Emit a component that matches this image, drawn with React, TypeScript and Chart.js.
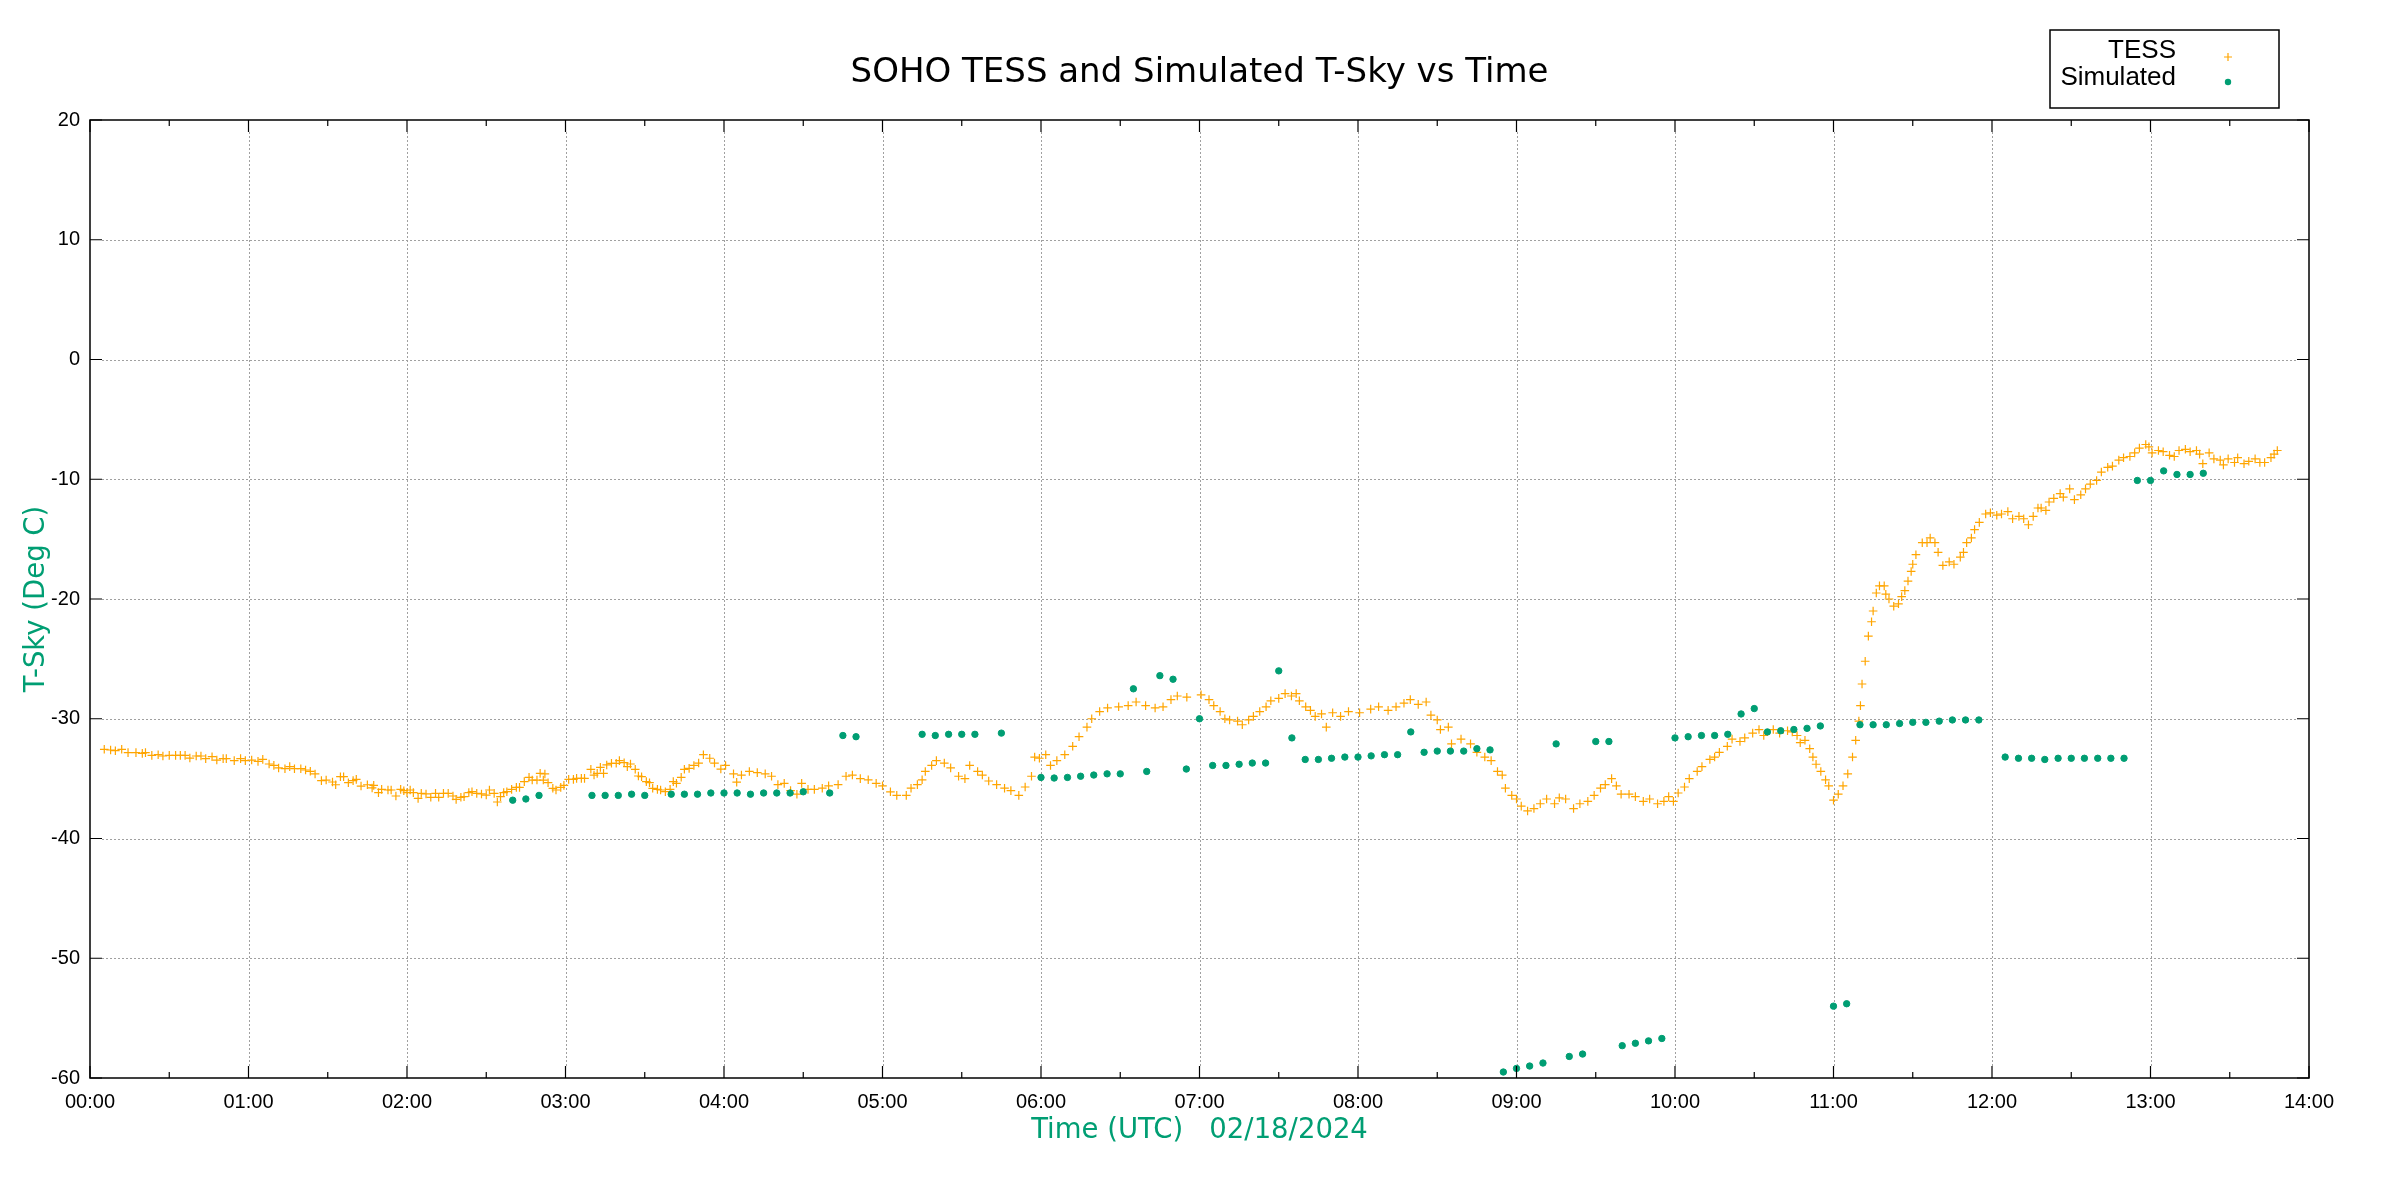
import { useEffect, useRef } from 'react';
import { Chart, registerables } from 'chart.js';

Chart.register(...registerables);

const W = 2400;
const H = 1200;

// Time in decimal hours (UTC), temperature in deg C
const tessHours = [
  0.09, 0.13, 0.16, 0.20, 0.24, 0.29, 0.33, 0.35, 0.39, 0.43,
  0.46, 0.50, 0.54, 0.57, 0.60, 0.63, 0.67, 0.70, 0.73, 0.77,
  0.80, 0.84, 0.86, 0.91, 0.95, 0.98, 1.02, 1.06, 1.09, 1.13,
  1.16, 1.19, 1.23, 1.26, 1.29, 1.33, 1.36, 1.39, 1.42, 1.46,
  1.49, 1.53, 1.55, 1.58, 1.60, 1.63, 1.66, 1.68, 1.71, 1.75,
  1.78, 1.79, 1.82, 1.84, 1.88,
  1.90, 1.93, 1.96, 1.98, 2.00, 2.02, 2.04, 2.07, 2.09, 2.12,
  2.15, 2.18, 2.20, 2.23, 2.26, 2.29, 2.31, 2.34, 2.36, 2.39,
  2.41, 2.44, 2.47, 2.50, 2.52, 2.55, 2.57, 2.59, 2.61, 2.63,
  2.66, 2.69, 2.71, 2.74, 2.77, 2.79, 2.82, 2.84, 2.86, 2.87,
  2.89, 2.92, 2.94, 2.97, 2.99, 3.02, 3.05, 3.07, 3.10, 3.12,
  3.16, 3.18, 3.20, 3.22, 3.24, 3.26, 3.29, 3.32, 3.34, 3.37,
  3.39, 3.41, 3.44, 3.46, 3.48, 3.51, 3.53, 3.55, 3.58, 3.60,
  3.63, 3.66, 3.68, 3.70, 3.73, 3.75, 3.78,
  3.81, 3.84, 3.87,
  3.91, 3.94, 3.98, 4.01, 4.06, 4.08, 4.11, 4.16, 4.21, 4.26,
  4.30, 4.34, 4.38, 4.42, 4.46, 4.49, 4.53, 4.57, 4.62, 4.66,
  4.72, 4.77, 4.81, 4.86, 4.91, 4.96, 5.00, 5.05, 5.09, 5.15,
  5.18, 5.22, 5.25, 5.27, 5.31, 5.34, 5.39, 5.43, 5.48, 5.52,
  5.55, 5.60, 5.63, 5.67, 5.72, 5.77, 5.81, 5.86, 5.90, 5.94,
  5.96, 5.99, 6.03, 6.06, 6.10, 6.15, 6.20, 6.24, 6.29, 6.32,
  6.37, 6.42, 6.49, 6.55, 6.60, 6.66, 6.72, 6.77, 6.82, 6.86,
  6.92,
  7.01, 7.06, 7.09, 7.13, 7.16, 7.19, 7.24, 7.27, 7.31, 7.34,
  7.38, 7.42, 7.45, 7.50, 7.54, 7.58, 7.61, 7.63, 7.67, 7.70,
  7.73, 7.77, 7.80, 7.84, 7.89, 7.94, 8.01, 8.08, 8.13, 8.19,
  8.24, 8.29, 8.33, 8.38, 8.43, 8.46, 8.50, 8.52, 8.57, 8.59,
  8.65, 8.71, 8.75, 8.80, 8.84, 8.88, 8.91, 8.93, 8.97, 9.00,
  9.03, 9.07, 9.11, 9.15, 9.19, 9.24, 9.27, 9.31, 9.36, 9.40,
  9.45, 9.49, 9.53, 9.56, 9.60, 9.63, 9.66, 9.71, 9.75, 9.80,
  9.84, 9.89, 9.93, 9.96, 9.99, 10.02, 10.06, 10.09, 10.14, 10.17,
  10.22, 10.25, 10.28, 10.33, 10.36, 10.41, 10.44, 10.49,
  10.53, 10.56, 10.62, 10.66, 10.71, 10.74, 10.77, 10.79, 10.82, 10.85,
  10.87, 10.89, 10.92, 10.95, 10.97, 11.00, 11.03, 11.06, 11.09, 11.12,
  11.14, 11.16, 11.17, 11.18, 11.20, 11.22, 11.24, 11.25, 11.27, 11.29,
  11.32, 11.33, 11.35, 11.38, 11.41, 11.43, 11.45, 11.47, 11.49, 11.50,
  11.52, 11.56, 11.59, 11.61, 11.64, 11.66, 11.69, 11.73, 11.76, 11.80,
  11.82, 11.84, 11.87, 11.89, 11.92, 11.96, 11.99, 12.03, 12.06, 12.10,
  12.13, 12.17, 12.20, 12.23, 12.26, 12.29, 12.31, 12.34, 12.36, 12.39,
  12.43, 12.45, 12.49, 12.52, 12.56, 12.59, 12.62, 12.66, 12.69, 12.73,
  12.76, 12.80, 12.83, 12.87, 12.90, 12.93, 12.97, 12.99, 13.01, 13.05,
  13.08, 13.12, 13.15, 13.18, 13.22, 13.25, 13.29, 13.31, 13.33, 13.37,
  13.40, 13.44, 13.46, 13.49, 13.53, 13.55, 13.59, 13.62, 13.66, 13.69,
  13.72, 13.76, 13.78, 13.80,
];

const tessTemp = [
  -32.55, -32.61, -32.67, -32.55, -32.83, -32.83, -32.89, -32.83, -33.06, -33.0,
  -33.11, -33.06, -33.06, -33.06, -33.06, -33.28, -33.11, -33.11, -33.33, -33.17,
  -33.45, -33.33, -33.33, -33.5, -33.33, -33.5, -33.45, -33.56, -33.39, -33.78,
  -33.89, -34.11, -34.17, -34.0, -34.17, -34.17, -34.28, -34.39, -34.61, -35.17,
  -35.12, -35.28, -35.51, -34.84, -34.84, -35.34, -35.17, -35.06, -35.62, -35.51,
  -35.78, -35.56, -36.17, -35.9, -35.95,
  -35.95, -36.45, -35.9, -36.01, -36.17, -35.95, -36.17, -36.65, -36.23, -36.28,
  -36.56, -36.23, -36.56, -36.23, -36.23, -36.45, -36.73, -36.56, -36.51, -36.17,
  -36.09, -36.23, -36.28, -36.37, -35.95, -36.23, -36.95, -36.51, -36.17, -36.09,
  -35.9, -35.73, -35.73, -35.25, -34.89, -35.12, -35.12, -34.56, -35.12, -34.61,
  -35.34, -35.81, -35.95, -35.73, -35.56, -35.06, -35.06, -34.98, -34.98, -34.98,
  -34.22, -34.7, -34.56, -34.06, -34.56, -33.86, -33.72, -33.72, -33.5, -33.67,
  -34.0, -33.78, -34.22, -34.78, -34.84, -35.25, -35.34, -35.81, -35.9, -35.95,
  -36.09, -35.9, -35.25, -35.39, -34.89, -34.22, -34.14,
  -33.9, -33.7, -33.0,
  -33.3, -33.7, -34.2, -33.9, -34.6, -35.3, -34.7, -34.4, -34.5, -34.6,
  -34.8, -35.5, -35.4, -36.0, -36.3, -35.4, -35.9, -35.9, -35.8, -35.6,
  -35.5, -34.8, -34.7, -35.0, -35.1, -35.4, -35.6, -36.1, -36.4, -36.4,
  -35.8, -35.5, -35.1, -34.4, -33.9, -33.5, -33.7, -34.1, -34.8, -35.0,
  -33.9, -34.4, -34.7, -35.2, -35.5, -35.8, -36.0, -36.4, -35.7, -34.8,
  -33.2, -33.3, -33.0, -33.9, -33.5, -33.0, -32.3, -31.5, -30.7, -30.0,
  -29.4, -29.1, -29.0, -28.9, -28.6, -28.9, -29.1, -29.0, -28.4, -28.1,
  -28.2,
  -28.0, -28.4, -28.9, -29.4, -30.0, -30.1, -30.2, -30.5, -30.1, -29.8,
  -29.4, -29.0, -28.5, -28.3, -27.9, -28.1, -27.9, -28.5, -29.0, -29.3,
  -29.8, -29.6, -30.7, -29.5, -29.8, -29.4, -29.5, -29.2, -29.0, -29.3,
  -29.0, -28.7, -28.4, -28.8, -28.6, -29.7, -30.1, -30.9, -30.7, -32.1,
  -31.7, -32.1, -32.8, -33.2, -33.5, -34.4, -34.7, -35.8, -36.4, -36.7,
  -37.3, -37.7, -37.5, -37.1, -36.7, -37.1, -36.6, -36.7, -37.5, -37.1,
  -36.9, -36.4, -35.8, -35.5, -35.0, -35.6, -36.3, -36.3, -36.5, -36.9,
  -36.7, -37.1, -36.9, -36.5, -36.9, -36.2, -35.7, -35.0, -34.4, -34.0,
  -33.4, -33.2, -32.8, -32.3, -31.7, -31.9, -31.6, -31.2,
  -30.9, -31.4, -30.9, -31.2, -31.0, -31.1, -31.4, -32.0, -31.8, -32.5,
  -33.2, -33.8, -34.4, -35.1, -35.6, -36.8, -36.3, -35.6, -34.6, -33.2,
  -31.8, -30.2, -28.9, -27.1, -25.2, -23.1, -21.9, -21.0, -19.5, -18.9,
  -18.9, -19.6, -20.0, -20.6, -20.4, -19.8, -19.3, -18.5, -17.7, -17.1,
  -16.3, -15.3, -15.3, -14.9, -15.3, -16.1, -17.2, -16.9, -17.1, -16.5,
  -16.1, -15.3, -14.9, -14.2, -13.6, -12.9, -12.8, -13.0, -12.9, -12.7,
  -13.3, -13.1, -13.3, -13.8, -13.1, -12.4, -12.4, -12.6, -11.9, -11.6,
  -11.2, -11.5, -10.8, -11.7, -11.3, -10.8, -10.4, -10.1, -9.4, -9.0,
  -8.9, -8.4, -8.2, -8.1, -7.8, -7.4, -7.1, -7.3, -7.8, -7.6,
  -7.7, -8.0, -8.1, -7.6, -7.5, -7.7, -7.6, -7.9, -8.7, -7.8,
  -8.3, -8.4, -8.8, -8.3, -8.6, -8.2, -8.7, -8.5, -8.3, -8.6,
  -8.6, -8.2, -7.9, -7.6,
];

const simHours = [
  2.667, 2.75, 2.833,
  3.167, 3.25, 3.333, 3.417, 3.5,
  3.667, 3.75, 3.833, 3.917, 4.0, 4.083, 4.167, 4.25, 4.333, 4.417, 4.5, 4.667,
  4.75, 4.833,
  5.25, 5.333, 5.417, 5.5, 5.583, 5.75,
  6.0, 6.083, 6.167, 6.25, 6.333, 6.417, 6.5, 6.583, 6.667, 6.75, 6.833, 6.917, 7.0,
  7.083, 7.167, 7.25, 7.333, 7.417, 7.5, 7.583, 7.667, 7.75, 7.833, 7.917, 8.0,
  8.083, 8.167, 8.25, 8.333, 8.417, 8.5, 8.583, 8.667, 8.75, 8.833,
  8.917, 9.0, 9.083, 9.167, 9.25, 9.333, 9.417, 9.5, 9.583, 9.667, 9.75, 9.833, 9.917,
  10.0, 10.083, 10.167, 10.25, 10.333, 10.417, 10.5,
  10.583, 10.667, 10.75, 10.833, 10.917, 11.0, 11.083, 11.167, 11.25, 11.333,
  11.417, 11.5, 11.583, 11.667, 11.75, 11.833, 11.917,
  12.083, 12.167, 12.25, 12.333, 12.417, 12.5, 12.583, 12.667, 12.75, 12.833,
  12.917, 13.0, 13.083, 13.167, 13.25, 13.333,
];

const simTemp = [
  -36.8, -36.7, -36.4,
  -36.4, -36.4, -36.4, -36.3, -36.4,
  -36.3, -36.3, -36.3, -36.2, -36.2, -36.2, -36.3, -36.2, -36.2, -36.2, -36.1, -36.2,
  -31.4, -31.5,
  -31.3, -31.4, -31.3, -31.3, -31.3, -31.2,
  -34.9, -34.95, -34.9, -34.8, -34.7, -34.6, -34.6, -27.5, -34.4, -26.4, -26.7, -34.2, -30.0,
  -33.9, -33.9, -33.8, -33.7, -33.7, -26.0, -31.6, -33.4, -33.4, -33.3, -33.2, -33.2,
  -33.1, -33.0, -33.0, -31.1, -32.8, -32.7, -32.7, -32.7, -32.5, -32.6,
  -59.5, -59.2, -59.0, -58.75, -32.1, -58.2, -58.0, -31.9, -31.9, -57.3, -57.1, -56.9, -56.7,
  -31.6, -31.5, -31.4, -31.4, -31.3, -29.6, -29.15,
  -31.1, -31.0, -30.9, -30.8, -30.6, -54.0, -53.8, -30.5, -30.5, -30.5,
  -30.4, -30.3, -30.3, -30.2, -30.1, -30.1, -30.1,
  -33.2, -33.3, -33.3, -33.4, -33.3, -33.3, -33.3, -33.3, -33.3, -33.3,
  -10.1, -10.1, -9.3, -9.6, -9.6, -9.5,
];

const xTickHours = [0, 1, 2, 3, 4, 5, 6, 7, 8, 9, 10, 11, 12, 13, 14];
const yTickValues = [-60, -50, -40, -30, -20, -10, 0, 10, 20];

const chartTitle = 'SOHO TESS and Simulated T-Sky vs Time';
const xAxisTitle = 'Time (UTC)   02/18/2024';
const yAxisTitle = 'T-Sky (Deg C)';
const seriesNames = ['TESS', 'Simulated'];

const ORANGE = '#FFA500';
const GREEN = '#009E73';
const GRID = '#a0a0a0';
const TICK_FONT = '"Liberation Sans", Arial, sans-serif';
const TITLE_FONT = '"DejaVu Sans", sans-serif';

const fmtHour = (v: number) => `${String(Math.round(v)).padStart(2, '0')}:00`;

const framePlugin = {
  id: 'gnuplotFrame',
  beforeDatasetsDraw(chart: any) {
    const { ctx, chartArea: a, scales } = chart;
    const xs = scales.x;
    const ys = scales.y;
    ctx.save();
    ctx.strokeStyle = GRID;
    ctx.lineWidth = 1;
    ctx.setLineDash([2, 2]);
    xTickHours.forEach((h) => {
      if (h <= 0 || h >= 14) return;
      const x = Math.round(xs.getPixelForValue(h)) + 0.5;
      ctx.beginPath();
      ctx.moveTo(x, a.top + 12);
      ctx.lineTo(x, a.bottom - 12);
      ctx.stroke();
    });
    yTickValues.forEach((v) => {
      if (v <= -60 || v >= 20) return;
      const y = Math.round(ys.getPixelForValue(v)) + 0.5;
      ctx.beginPath();
      ctx.moveTo(a.left + 12, y);
      ctx.lineTo(a.right - 12, y);
      ctx.stroke();
    });
    ctx.restore();
  },
  afterDatasetsDraw(chart: any) {
    const { ctx, chartArea: a, scales } = chart;
    const xs = scales.x;
    const ys = scales.y;
    ctx.save();
    ctx.setLineDash([]);
    ctx.strokeStyle = '#000';
    ctx.lineWidth = 1.5;
    ctx.strokeRect(a.left, a.top, a.right - a.left, a.bottom - a.top);
    ctx.lineWidth = 1.2;
    ctx.beginPath();
    xTickHours.forEach((h) => {
      const x = xs.getPixelForValue(h);
      ctx.moveTo(x, a.bottom);
      ctx.lineTo(x, a.bottom - 12);
      ctx.moveTo(x, a.top);
      ctx.lineTo(x, a.top + 12);
      if (h < 14) {
        const xm = xs.getPixelForValue(h + 0.5);
        ctx.moveTo(xm, a.bottom);
        ctx.lineTo(xm, a.bottom - 6);
        ctx.moveTo(xm, a.top);
        ctx.lineTo(xm, a.top + 6);
      }
    });
    yTickValues.forEach((v) => {
      const y = ys.getPixelForValue(v);
      ctx.moveTo(a.left, y);
      ctx.lineTo(a.left + 12, y);
      ctx.moveTo(a.right, y);
      ctx.lineTo(a.right - 12, y);
    });
    ctx.stroke();
    ctx.restore();
  },
  afterDraw(chart: any) {
    const { ctx, chartArea: a } = chart;
    ctx.save();
    // title
    ctx.fillStyle = '#000';
    ctx.font = `34px ${TITLE_FONT}`;
    ctx.textAlign = 'center';
    ctx.textBaseline = 'alphabetic';
    ctx.fillText(chartTitle, (a.left + a.right) / 2, 82);
    // x axis title
    ctx.fillStyle = GREEN;
    ctx.font = `27.5px ${TITLE_FONT}`;
    ctx.fillText(xAxisTitle, (a.left + a.right) / 2, 1138);
    // y axis title
    ctx.save();
    ctx.translate(44, (a.top + a.bottom) / 2);
    ctx.rotate(-Math.PI / 2);
    ctx.textAlign = 'center';
    ctx.fillText(yAxisTitle, 0, 0);
    ctx.restore();
    // legend
    ctx.setLineDash([]);
    ctx.strokeStyle = '#000';
    ctx.lineWidth = 1.5;
    ctx.strokeRect(2050, 30, 229, 78);
    ctx.fillStyle = '#000';
    ctx.font = `26px ${TICK_FONT}`;
    ctx.textAlign = 'right';
    ctx.textBaseline = 'middle';
    ctx.fillText(seriesNames[0], 2176, 51);
    ctx.fillText(seriesNames[1], 2176, 78);
    // legend markers
    ctx.strokeStyle = ORANGE;
    ctx.lineWidth = 1.2;
    ctx.beginPath();
    ctx.moveTo(2228 - 4, 57);
    ctx.lineTo(2228 + 4, 57);
    ctx.moveTo(2228, 53);
    ctx.lineTo(2228, 61);
    ctx.stroke();
    ctx.fillStyle = GREEN;
    ctx.beginPath();
    ctx.arc(2228, 82, 3.2, 0, Math.PI * 2);
    ctx.fill();
    ctx.restore();
  },
};

export default function App() {
  const ref = useRef<HTMLCanvasElement>(null);
  useEffect(() => {
    if (!ref.current) return;
    const chart = new Chart(ref.current, {
      type: 'scatter',
      data: {
        datasets: [
          {
            label: seriesNames[0],
            data: tessHours.map((h, i) => ({ x: h, y: tessTemp[i] })),
            pointStyle: 'cross',
            pointRadius: 4.3,
            pointBorderWidth: 1.2,
            borderColor: ORANGE,
            backgroundColor: ORANGE,
            showLine: false,
            order: 2,
          },
          {
            label: seriesNames[1],
            data: simHours.map((h, i) => ({ x: h, y: simTemp[i] })),
            pointStyle: 'circle',
            pointRadius: 3.2,
            pointBorderWidth: 1,
            borderColor: GREEN,
            backgroundColor: GREEN,
            showLine: false,
            order: 1,
          },
        ],
      },
      options: {
        responsive: false,
        devicePixelRatio: 1,
        animation: false,
        layout: { padding: { top: 120, right: 91, left: 0, bottom: 0 } },
        plugins: {
          legend: { display: false },
          title: { display: false },
          tooltip: { enabled: false },
        },
        scales: {
          x: {
            type: 'linear',
            min: 0,
            max: 14,
            grid: { display: false, drawTicks: false },
            border: { display: false },
            afterFit: (s: any) => {
              s.height = 122;
            },
            afterBuildTicks: (s: any) => {
              s.ticks = xTickHours.map((v) => ({ value: v }));
            },
            ticks: {
              autoSkip: false,
              maxRotation: 0,
              minRotation: 0,
              padding: 12,
              color: '#000',
              font: { family: TICK_FONT, size: 20 },
              callback: (v: any) => fmtHour(Number(v)),
            },
          },
          y: {
            type: 'linear',
            min: -60,
            max: 20,
            grid: { display: false, drawTicks: false },
            border: { display: false },
            afterFit: (s: any) => {
              s.width = 90;
            },
            afterBuildTicks: (s: any) => {
              s.ticks = yTickValues.map((v) => ({ value: v }));
            },
            ticks: {
              autoSkip: false,
              padding: 10,
              color: '#000',
              font: { family: TICK_FONT, size: 20 },
              callback: (v: any) => String(v),
            },
          },
        },
      },
      plugins: [framePlugin],
    });
    return () => chart.destroy();
  }, []);

  return (
    <div style={{ position: 'absolute', left: 0, top: 0, width: W, height: H, background: '#fff' }}>
      <canvas ref={ref} width={W} height={H} style={{ width: W, height: H, display: 'block' }} />
    </div>
  );
}
